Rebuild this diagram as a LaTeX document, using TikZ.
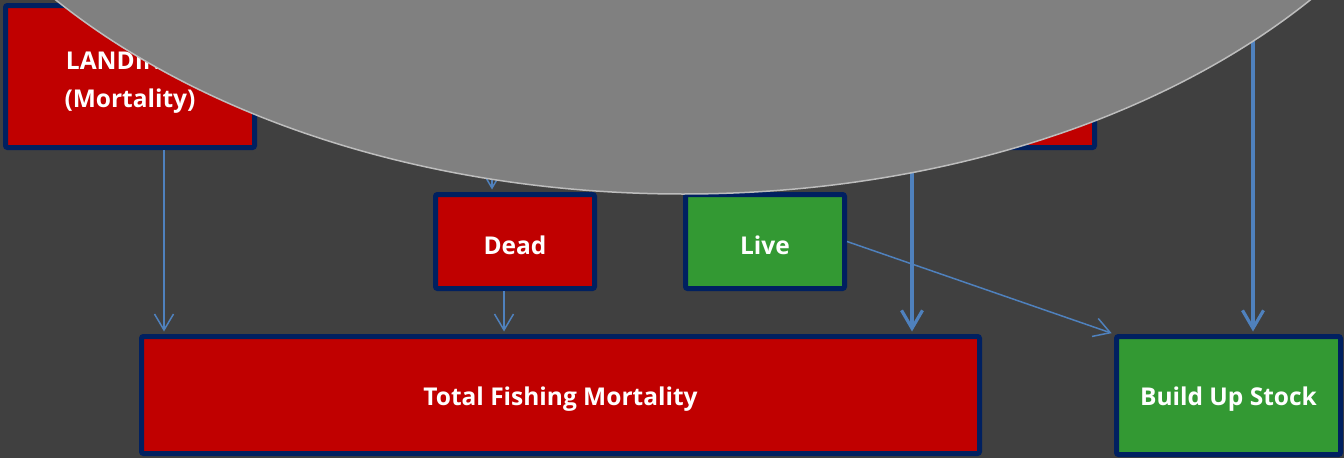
\documentclass[tikz,border=0pt]{standalone}
\usepackage{fontspec}
\setmainfont{Open Sans}
\usetikzlibrary{arrows.meta,calc}
\definecolor{bgc}{HTML}{404040}
\definecolor{redbox}{HTML}{C00000}
\definecolor{greenbox}{HTML}{339933}
\definecolor{navy}{HTML}{002060}
\definecolor{arrc}{HTML}{4F81BD}
\definecolor{ellfill}{HTML}{808080}
\definecolor{elldraw}{HTML}{BDBDBD}
\newcommand{\lowertext}[1]{\raisebox{-4pt}[\height][\depth]{#1}}
\tikzset{
  boxbase/.style={draw=navy, line width=5pt, rounded corners=2pt, text=white,
    font=\fontsize{24.5}{38}\selectfont\bfseries, inner sep=0pt},
  redb/.style={boxbase, fill=redbox},
  greenb/.style={boxbase, fill=greenbox},
  thinarr/.style={draw=arrc, line width=1.5pt, -{Straight Barb[length=16pt,width=19pt,line width=1.5pt]}, shorten >=2.5pt},
  thickarr/.style={draw=arrc, line width=3.2pt, -{Straight Barb[length=18pt,width=21pt,line width=3.2pt]}, shorten >=2.5pt}
}
\begin{document}
\begin{tikzpicture}[x=1pt,y=-1pt]
\useasboundingbox (0,0) rectangle (1344,458);
\clip (0,0) rectangle (1344,458);
\fill[bgc] (0,0) rectangle (1344,458);

% boxes
\node[redb, minimum width=249pt, minimum height=142pt] (landings) at (130,76.5)
  {\lowertext{\begin{tabular}{@{}c@{}}LANDINGS\\(Mortality)\end{tabular}}};
\node[redb, minimum width=249pt, minimum height=142pt] (redtop) at (970,76.5) {};
\node[redb, minimum width=159pt, minimum height=94pt] (dead) at (515,241.5) {\lowertext{Dead}};
\node[greenb, minimum width=159pt, minimum height=94pt] (live) at (765,241.5) {\lowertext{Live}};
\node[redb, minimum width=838pt, minimum height=117pt] (total) at (560.5,395) {\lowertext{Total Fishing Mortality}};
\node[greenb, minimum width=224pt, minimum height=118pt] (stock) at (1228.5,395.5) {\lowertext{Build Up Stock}};

\coordinate (srcdead) at (492,140);
\coordinate (srcstock) at (1253,10);

% connectors
\draw[thinarr] (landings.south -| 164,0) -- (total.north -| 164,0);
\draw[thinarr] (srcdead) -- (dead.north -| srcdead);
\draw[thinarr] (dead.south -| 504,0) -- (total.north -| 504,0);
\draw[thickarr] (redtop.south -| 912,0) -- (total.north -| 912,0);
\draw[thickarr] (srcstock) -- (stock.north -| srcstock);
\draw[thinarr] (live.east) -- (stock.north west);

% big ellipse overlay
\filldraw[fill=ellfill, draw=elldraw, line width=1.5pt] (683,-326) ellipse [x radius=805pt, y radius=520pt];
\end{tikzpicture}
\end{document}
